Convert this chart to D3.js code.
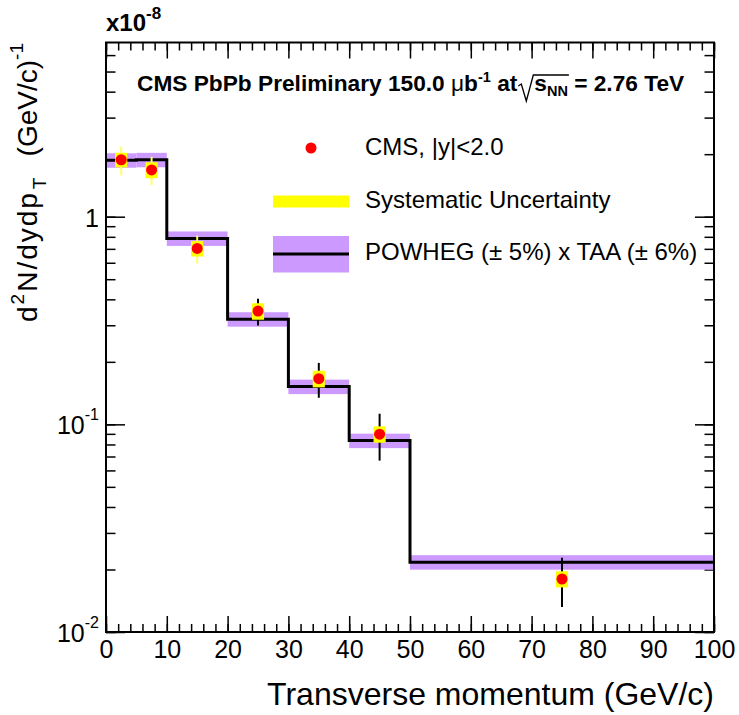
<!DOCTYPE html>
<html>
<head>
<meta charset="utf-8">
<script src="https://cdn.jsdelivr.net/npm/d3@7"></script>
<style>
  body { margin: 0; background: #fff; }
  svg { font-family: "Liberation Sans", Arial, sans-serif; }
  svg text { white-space: pre; }
  .axis path { display: none; }
  .axis line { stroke: #000; stroke-width: 1.5; }
  .axis text { font-size: 25px; fill: #000; }
</style>
</head>
<body>
<svg id="chart" width="739" height="715"></svg>
<script>
// POWHEG x TAA prediction, histogram bins (GeV/c) and contents (x 1e-8)
const binEdges = [0, 5, 10, 20, 30, 40, 50, 100];
const powheg = [1.87, 1.88, 0.786, 0.321, 0.152, 0.0835, 0.0217];
const powhegRelUnc = 0.08;

// CMS points
const ptPoints = [2.5, 7.5, 15, 25, 35, 45, 75];
const yieldPoints = [1.88, 1.68, 0.703, 0.351, 0.166, 0.0897, 0.018];
const statErr = [0.296, 0.263, 0.109, 0.052, 0.0317, 0.0228, 0.0048];
const sysErr = [0.152, 0.148, 0.060, 0.032, 0.0153, 0.0081, 0.0016];
const sysHalfWidth = 1;

const xMajor = d3.range(0, 101, 10);
const xMinor = d3.range(0, 101, 2);
const yMajor = [0.01, 0.1, 1];
const yMajorLabels = [['10', '-2'], ['10', '-1'], ['1', '']];

const legendLabels = ['CMS, |y|<2.0', 'Systematic Uncertainty', 'POWHEG (\u00b1 5%) x TAA (\u00b1 6%)'];

const margin = { top: 42.5, right: 25, bottom: 83, left: 106 };
const width = 739, height = 715;
const svg = d3.select('#chart');

const x = d3.scaleLinear().domain([0, 100]).range([margin.left, width - margin.right]);
const y = d3.scaleLog().domain([0.01, 6.9]).range([height - margin.bottom, margin.top]);

const x0 = x.range()[0], x1 = x.range()[1];
const y0 = y.range()[0], y1 = y.range()[1];

svg.append('clipPath').attr('id', 'plotclip')
  .append('rect').attr('x', x0).attr('y', y1).attr('width', x1 - x0).attr('height', y0 - y1);

// rich text helper: parts laid out one after another
function place(g, px, py, parts) {
  let cx = px;
  parts.forEach(function (p) {
    if (p.gap) { cx += p.gap; return; }
    const t = g.append('text')
      .attr('x', cx)
      .attr('y', py + (p.dy || 0))
      .style('font-size', p.size + 'px')
      .style('font-weight', p.bold ? 'bold' : 'normal')
      .style('letter-spacing', (p.ls || 0) + 'px')
      .text(p.text);
    p.x = cx;
    cx += t.node().getComputedTextLength();
    p.x2 = cx;
  });
  return cx;
}

// axes ticks (drawn inward like ROOT)
svg.append('g').attr('class', 'axis').attr('transform', 'translate(0,' + y0 + ')')
  .call(d3.axisBottom(x).tickValues(xMajor).tickSize(-16).tickPadding(8).tickFormat(d3.format('d')));
svg.append('g').attr('class', 'axis').attr('transform', 'translate(0,' + y0 + ')')
  .call(d3.axisBottom(x).tickValues(xMinor).tickSize(-8).tickFormat(''));
svg.append('g').attr('class', 'axis').attr('transform', 'translate(0,' + y1 + ')')
  .call(d3.axisTop(x).tickValues(xMajor).tickSize(-16).tickFormat(''));
svg.append('g').attr('class', 'axis').attr('transform', 'translate(0,' + y1 + ')')
  .call(d3.axisTop(x).tickValues(xMinor).tickSize(-8).tickFormat(''));

svg.append('g').attr('class', 'axis').attr('transform', 'translate(' + x0 + ',0)')
  .call(d3.axisLeft(y).tickValues(yMajor).tickSize(-19).tickFormat(''));
svg.append('g').attr('class', 'axis').attr('transform', 'translate(' + x0 + ',0)')
  .call(d3.axisLeft(y).tickValues(y.ticks()).tickSize(-9.5).tickFormat(''));
svg.append('g').attr('class', 'axis').attr('transform', 'translate(' + x1 + ',0)')
  .call(d3.axisRight(y).tickValues(yMajor).tickSize(-19).tickFormat(''));
svg.append('g').attr('class', 'axis').attr('transform', 'translate(' + x1 + ',0)')
  .call(d3.axisRight(y).tickValues(y.ticks()).tickSize(-9.5).tickFormat(''));

// y tick labels with exponents
yMajor.forEach(function (v, i) {
  const g = svg.append('g');
  const lab = yMajorLabels[i];
  const parts = [{ text: lab[0], size: 25 }];
  if (lab[1]) parts.push({ text: lab[1], size: 16, dy: -14 });
  const w = place(g, 0, y(v) + 10, parts);
  g.attr('transform', 'translate(' + (99 - w) + ',0)');
});

// POWHEG band
const bins = powheg.map((v, i) => ({ lo: binEdges[i], hi: binEdges[i + 1], v: v }));
const plot = svg.append('g').attr('clip-path', 'url(#plotclip)');
plot.selectAll('rect.band').data(bins).join('rect')
  .attr('class', 'band')
  .attr('x', d => x(d.lo))
  .attr('width', d => x(d.hi) - x(d.lo))
  .attr('y', d => y(d.v * (1 + powhegRelUnc)))
  .attr('height', d => y(d.v * (1 - powhegRelUnc)) - y(d.v * (1 + powhegRelUnc)))
  .attr('fill', '#cc99ff');

// POWHEG histogram line
const stepPts = bins.map(d => [d.lo, d.v]).concat([[binEdges[binEdges.length - 1], powheg[powheg.length - 1]]]);
plot.append('path')
  .attr('d', d3.line().x(d => x(d[0])).y(d => y(d[1])).curve(d3.curveStepAfter)(stepPts))
  .attr('fill', 'none').attr('stroke', '#000').attr('stroke-width', 3);

// CMS points
const pts = ptPoints.map((p, i) => ({ pt: p, v: yieldPoints[i], stat: statErr[i], sys: sysErr[i] }));
const lowPtCut = 20;
plot.selectAll('line.stat').data(pts).join('line')
  .attr('class', 'stat')
  .attr('x1', d => x(d.pt)).attr('x2', d => x(d.pt))
  .attr('y1', d => y(d.v + d.stat)).attr('y2', d => y(d.v - d.stat))
  .attr('stroke', d => d.pt < lowPtCut ? '#ffff66' : '#000')
  .attr('stroke-width', 2);
plot.selectAll('rect.sys').data(pts).join('rect')
  .attr('class', 'sys')
  .attr('x', d => x(d.pt - sysHalfWidth))
  .attr('width', d => x(d.pt + sysHalfWidth) - x(d.pt - sysHalfWidth))
  .attr('y', d => y(d.v + d.sys))
  .attr('height', d => y(d.v - d.sys) - y(d.v + d.sys))
  .attr('fill', '#ffff00');
plot.selectAll('circle.pt').data(pts).join('circle')
  .attr('class', 'pt')
  .attr('cx', d => x(d.pt)).attr('cy', d => y(d.v))
  .attr('r', 5.5).attr('fill', '#ff0000');

// frame
svg.append('rect')
  .attr('x', x0).attr('y', y1).attr('width', x1 - x0).attr('height', y0 - y1)
  .attr('fill', 'none').attr('stroke', '#000').attr('stroke-width', 2);

// legend
const leg = svg.append('g');
leg.append('circle').attr('cx', 311).attr('cy', 148).attr('r', 5.5).attr('fill', '#ff0000');
leg.append('rect').attr('x', 273).attr('y', 195.5).attr('width', 76).attr('height', 12).attr('fill', '#ffff00');
leg.append('rect').attr('x', 273).attr('y', 236).attr('width', 76).attr('height', 36.5).attr('fill', '#cc99ff');
leg.append('line').attr('x1', 273).attr('x2', 349).attr('y1', 254).attr('y2', 254)
  .attr('stroke', '#000').attr('stroke-width', 3);
[155, 208, 260].forEach(function (by, i) {
  leg.append('text').attr('x', 365).attr('y', by).style('font-size', '24px').text(legendLabels[i]);
});

// header text
const head = svg.append('g');
const titleParts = [
  { text: 'CMS PbPb Preliminary 150.0 ', size: 22.7, bold: true },
  { text: '\u03bc', size: 22.7 },
  { text: 'b', size: 22.7, bold: true },
  { text: '-1', size: 14.5, bold: true, dy: -9 },
  { text: ' at', size: 22.7, bold: true },
  { gap: 17 },
  { text: 's', size: 22.7, bold: true },
  { text: 'NN', size: 14.5, bold: true, dy: 5 },
  { text: ' = 2.76 TeV', size: 22.7, bold: true }
];
place(head, 137, 91, titleParts);
const sPart = titleParts[6], nnPart = titleParts[7];
head.append('path')
  .attr('d', 'M' + (sPart.x - 16) + ',86 L' + (sPart.x - 13) + ',84 L' + (sPart.x - 8) + ',101 L' +
    (sPart.x - 1) + ',75 L' + (nnPart.x2 + 1) + ',75')
  .attr('fill', 'none').attr('stroke', '#000').attr('stroke-width', 1.3);

place(svg.append('g'), 106, 31, [
  { text: 'x10', size: 24, bold: true },
  { text: '-8', size: 17, bold: true, dy: -12 }
]);

// axis titles
svg.append('text').attr('x', x1).attr('y', 705).attr('text-anchor', 'end')
  .style('font-size', '32px').text('Transverse momentum (GeV/c)');

const yt = svg.append('g').attr('transform', 'translate(37,322) rotate(-90)');
place(yt, 0, 0, [
  { text: 'd', size: 28 },
  { gap: 2 },
  { text: '2', size: 19, dy: -13 },
  { gap: 2 },
  { text: 'N/dydp', size: 28, ls: 2 },
  { gap: 2 },
  { text: 'T', size: 19, dy: 9 }
]);
const yt2 = yt.append('g');
const w2 = place(yt2, 0, 0, [
  { text: '(GeV/c)', size: 28 },
  { text: '-1', size: 19, dy: -14 }
]);
yt2.attr('transform', 'translate(' + (279 - w2) + ',0)');
</script>
</body>
</html>
